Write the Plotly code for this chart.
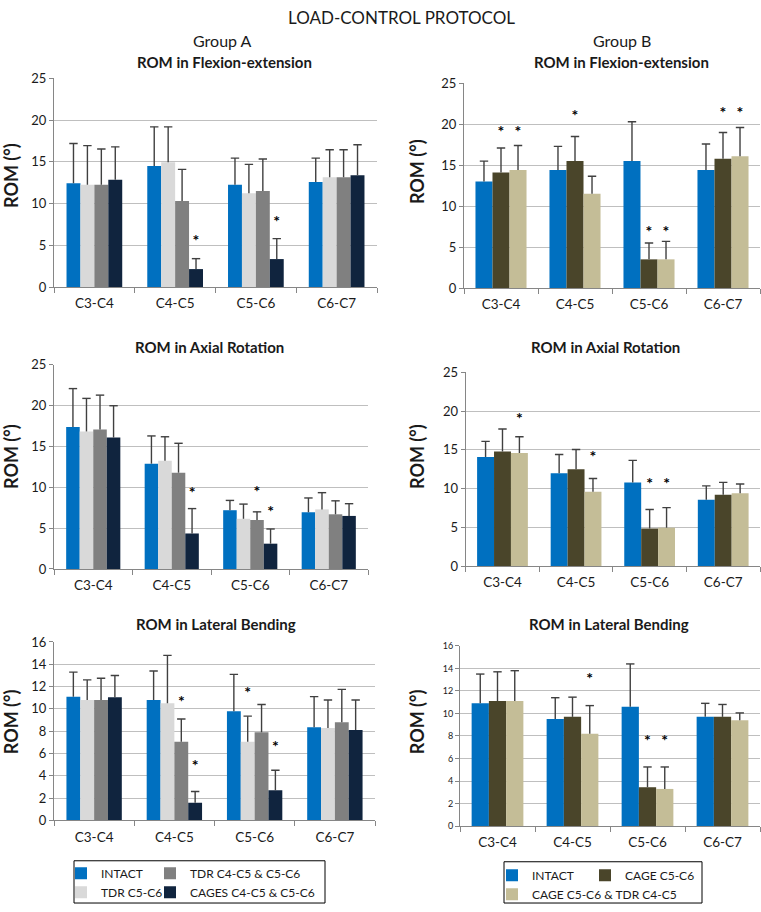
import plotly.graph_objects as go

W, H = 761, 912

LEVELS = ["C3-C4", "C4-C5", "C5-C6", "C6-C7"]

NAMES_A = ["INTACT", "TDR C5-C6", "TDR C4-C5 & C5-C6", "CAGES C4-C5 & C5-C6"]
NAMES_B = ["INTACT", "CAGE C5-C6", "CAGE C5-C6 & TDR C4-C5"]

COLORS_A = ["#0070C0", "#D9D9D9", "#808080", "#10243E"]
COLORS_B = ["#0070C0", "#4A452A", "#C4BD97"]

# ── Flexion-extension ────────────────────────────────────────────────
FE_A_MEAN = [[12.45, 14.5, 12.25, 12.6],
             [12.25, 14.95, 11.25, 13.15],
             [12.25, 10.3, 11.5, 13.15],
             [12.85, 2.15, 3.35, 13.4]]
FE_A_SD = [[4.75, 4.7, 3.2, 2.85],
           [4.7, 4.25, 3.45, 3.3],
           [4.3, 3.8, 3.85, 3.3],
           [3.95, 1.25, 2.45, 3.65]]
FE_A_STAR = [[None, None, None, None],
             [None, None, None, None],
             [None, None, None, None],
             [None, 5.4, 7.65, None]]

FE_B_MEAN = [[13.0, 14.4, 15.5, 14.4],
             [14.1, 15.5, 3.5, 15.8],
             [14.4, 11.5, 3.5, 16.1]]
FE_B_SD = [[2.5, 2.9, 4.8, 3.2],
           [3.0, 3.0, 2.0, 3.2],
           [3.0, 2.15, 2.2, 3.5]]
FE_B_STAR = [[None, None, None, None],
             [18.9, 20.9, 6.7, 21.3],
             [18.9, None, 6.7, 21.3]]

# ── Axial rotation ───────────────────────────────────────────────────
AR_A_MEAN = [[17.4, 12.9, 7.2, 6.95],
             [16.85, 13.25, 6.15, 7.3],
             [17.1, 11.8, 6.0, 6.7],
             [16.1, 4.35, 3.1, 6.5]]
AR_A_SD = [[4.7, 3.4, 1.2, 1.75],
           [4.05, 2.95, 1.8, 2.05],
           [4.2, 3.6, 1.0, 1.65],
           [3.9, 3.05, 1.8, 1.5]]
AR_A_STAR = [[None, None, None, None],
             [None, None, None, None],
             [None, None, 9.35, None],
             [None, 9.15, 6.86, None]]

AR_B_MEAN = [[14.1, 12.0, 10.8, 8.55],
             [14.8, 12.5, 4.85, 9.2],
             [14.6, 9.6, 4.95, 9.4]]
AR_B_SD = [[2.0, 2.4, 2.85, 1.8],
           [2.9, 2.55, 2.45, 1.6],
           [2.1, 1.7, 2.6, 1.2]]
AR_B_STAR = [[None, None, None, None],
             [None, None, 10.5, None],
             [18.9, 13.9, 10.5, None]]

# ── Lateral bending ──────────────────────────────────────────────────
LB_A_MEAN = [[11.1, 10.8, 9.8, 8.35],
             [10.8, 10.5, 7.05, 8.3],
             [10.8, 7.05, 7.9, 8.8],
             [11.05, 1.6, 2.7, 8.1]]
LB_A_SD = [[2.2, 2.6, 3.3, 2.75],
           [1.8, 4.3, 2.3, 2.5],
           [1.95, 2.05, 2.5, 2.95],
           [1.95, 1.0, 1.8, 2.7]]
LB_A_STAR = [[None, None, None, None],
             [None, None, 11.35, None],
             [None, 10.5, None, None],
             [None, 4.75, 6.5, None]]

LB_B_MEAN = [[10.9, 9.5, 10.6, 9.7],
             [11.1, 9.7, 3.45, 9.7],
             [11.1, 8.2, 3.3, 9.4]]
LB_B_SD = [[2.6, 1.9, 3.8, 1.2],
           [2.6, 1.75, 1.8, 1.1],
           [2.7, 2.5, 1.95, 0.65]]
LB_B_STAR = [[None, None, None, None],
             [None, None, 7.5, None],
             [None, 12.95, 7.5, None]]

# ── Style ────────────────────────────────────────────────────────────
FONT = "Lato"
TXT = "#1a1a1a"
ERR = "#404040"
GRID = "#BFBFBF"
AXLINE = "#868686"


def fx(px):
    return px / W


def fy(py):
    return 1 - py / H


# panel: (means, sds, stars, names, colors, x-px, y-px, ymax, dtick, ytickfont, title, title pos, ylabel pos)
PANELS = [
    (FE_A_MEAN, FE_A_SD, FE_A_STAR, NAMES_A, COLORS_A, (54, 377), (71.7, 284), 25, 5, 13,
     "ROM in Flexion-extension", (224, 55), (11, 171)),
    (FE_B_MEAN, FE_B_SD, FE_B_STAR, NAMES_B, COLORS_B, (464, 760), (76.7, 285), 25, 5, 13,
     "ROM in Flexion-extension", (621, 55), (417, 167)),
    (AR_A_MEAN, AR_A_SD, AR_A_STAR, NAMES_A, COLORS_A, (54, 368), (363.3, 571), 25, 5, 13,
     "ROM in Axial Rotation", (209, 345), (11, 457)),
    (AR_B_MEAN, AR_B_SD, AR_B_STAR, NAMES_B, COLORS_B, (465.7, 760), (371, 568), 25, 5, 13,
     "ROM in Axial Rotation", (605, 345), (417, 457)),
    (LB_A_MEAN, LB_A_SD, LB_A_STAR, NAMES_A, COLORS_A, (54, 375), (645.3, 827), 16, 2, 13,
     "ROM in Lateral Bending", (216, 627), (11, 727)),
    (LB_B_MEAN, LB_B_SD, LB_B_STAR, NAMES_B, COLORS_B, (460, 760), (649.3, 832.7), 16, 2, 9,
     "ROM in Lateral Bending", (609, 627), (417, 727)),
]

# which legend box each first-row series goes to
LEGEND_A = ["legend", "legend", "legend2", "legend2"]
LEGEND_B = ["legend3", "legend4", "legend3"]

fig = go.Figure()
layout = {}
annotations = []

for p, (means, sds, stars, names, colors, xpx, ypx, ymax, dt, tfs,
        title, tpos, ypos) in enumerate(PANELS, start=1):
    sfx = "" if p == 1 else str(p)
    axes = dict(xaxis=f"x{sfx}", yaxis=f"y{sfx}")
    legends = LEGEND_A if len(names) == 4 else LEGEND_B

    for i, (name, col) in enumerate(zip(names, colors)):
        fig.add_trace(go.Bar(
            x=LEVELS, y=means[i], name=name, offsetgroup=f"g{i}",
            marker=dict(color=col, line=dict(width=0)),
            showlegend=p in (1, 2), legend=legends[i], **axes,
        ))

    for i in range(len(names)):
        # plus-only error bar: cap marker on top, stem drawn down to the bar
        tops = [m + s for m, s in zip(means[i], sds[i])]
        fig.add_trace(go.Scatter(
            x=LEVELS, y=tops, mode="markers", offsetgroup=f"g{i}",
            orientation="v",
            marker=dict(symbol="line-ew", size=6, color=ERR,
                        line=dict(color=ERR, width=1.4)),
            error_y=dict(type="data", symmetric=False, array=[0] * 4,
                         arrayminus=sds[i], width=0, thickness=1.4, color=ERR),
            showlegend=False, hoverinfo="skip", **axes,
        ))
        # significance asterisks
        sx = [lvl for lvl, st in zip(LEVELS, stars[i]) if st is not None]
        sy = [st for st in stars[i] if st is not None]
        if sx:
            fig.add_trace(go.Scatter(
                x=sx, y=sy, mode="text", text=["<b>*</b>"] * len(sx),
                textposition="middle center", offsetgroup=f"g{i}",
                orientation="v", cliponaxis=False,
                textfont=dict(family=FONT, size=16, color="#000000"),
                showlegend=False, hoverinfo="skip", **axes,
            ))

    layout[f"xaxis{sfx}"] = dict(
        domain=[fx(xpx[0]), fx(xpx[1])], anchor=f"y{sfx}",
        type="category", showline=True, linecolor=AXLINE, linewidth=1,
        ticks="outside", tickson="boundaries", ticklen=5, tickcolor=AXLINE,
        tickfont=dict(family=FONT, size=13.5, color=TXT),
        ticklabelstandoff=4, showgrid=False, fixedrange=True,
    )
    layout[f"yaxis{sfx}"] = dict(
        domain=[fy(ypx[1]), fy(ypx[0])], anchor=f"x{sfx}",
        range=[0, ymax], dtick=dt, showline=True, linecolor=AXLINE, linewidth=1,
        ticks="outside", ticklen=4, tickcolor=AXLINE,
        tickfont=dict(family=FONT, size=tfs, color=TXT),
        showgrid=True, gridcolor=GRID, gridwidth=1, zeroline=False,
        fixedrange=True,
    )
    annotations.append(dict(
        text=f"<b>{title}</b>", x=fx(tpos[0]), y=fy(tpos[1]),
        xref="paper", yref="paper", xanchor="center", yanchor="middle",
        showarrow=False, font=dict(family=FONT, size=15, color=TXT),
    ))
    annotations.append(dict(
        text="<b>ROM (°)</b>", x=fx(ypos[0]), y=fy(ypos[1]), textangle=-90,
        xref="paper", yref="paper", xanchor="center", yanchor="middle",
        showarrow=False, font=dict(family=FONT, size=18, color=TXT),
    ))

for text, x, y, size in [("LOAD-CONTROL PROTOCOL", 401, 10, 17),
                         ("Group A", 222, 33, 16),
                         ("Group B", 622, 33, 16)]:
    annotations.append(dict(
        text=text, x=fx(x), y=fy(y), xref="paper", yref="paper",
        xanchor="center", yanchor="middle", showarrow=False,
        font=dict(family=FONT, size=size, color=TXT),
    ))

legend_style = dict(
    xanchor="left", yanchor="top", orientation="v",
    bgcolor="rgba(0,0,0,0)", borderwidth=0, traceorder="normal",
    font=dict(family=FONT, size=12, color=TXT),
)
layout["legend"] = dict(x=fx(61), y=fy(866), **legend_style)
layout["legend2"] = dict(x=fx(150), y=fy(866), **legend_style)
layout["legend3"] = dict(x=fx(492), y=fy(868), **legend_style)
layout["legend4"] = dict(x=fx(585), y=fy(868), **legend_style)

shapes = [
    dict(type="rect", xref="paper", yref="paper",
         x0=fx(74), x1=fx(325), y0=fy(911), y1=fy(868),
         line=dict(color="#000000", width=1)),
    dict(type="rect", xref="paper", yref="paper",
         x0=fx(504), x1=fx(702), y0=fy(911), y1=fy(869),
         line=dict(color="#000000", width=1)),
]

fig.update_layout(
    width=W, height=H,
    margin=dict(l=0, r=0, t=0, b=0),
    paper_bgcolor="white", plot_bgcolor="white",
    barmode="group", bargap=0.31, bargroupgap=0,
    scattermode="group", scattergap=0.31,
    font=dict(family=FONT, color=TXT),
    annotations=annotations, shapes=shapes,
    **layout,
)

# drop the browser's default 8px body margin so the figure sits at (0, 0)
fig.write_html("out.html", config={"displayModeBar": False},
               post_script="document.body.style.margin = '0';")
